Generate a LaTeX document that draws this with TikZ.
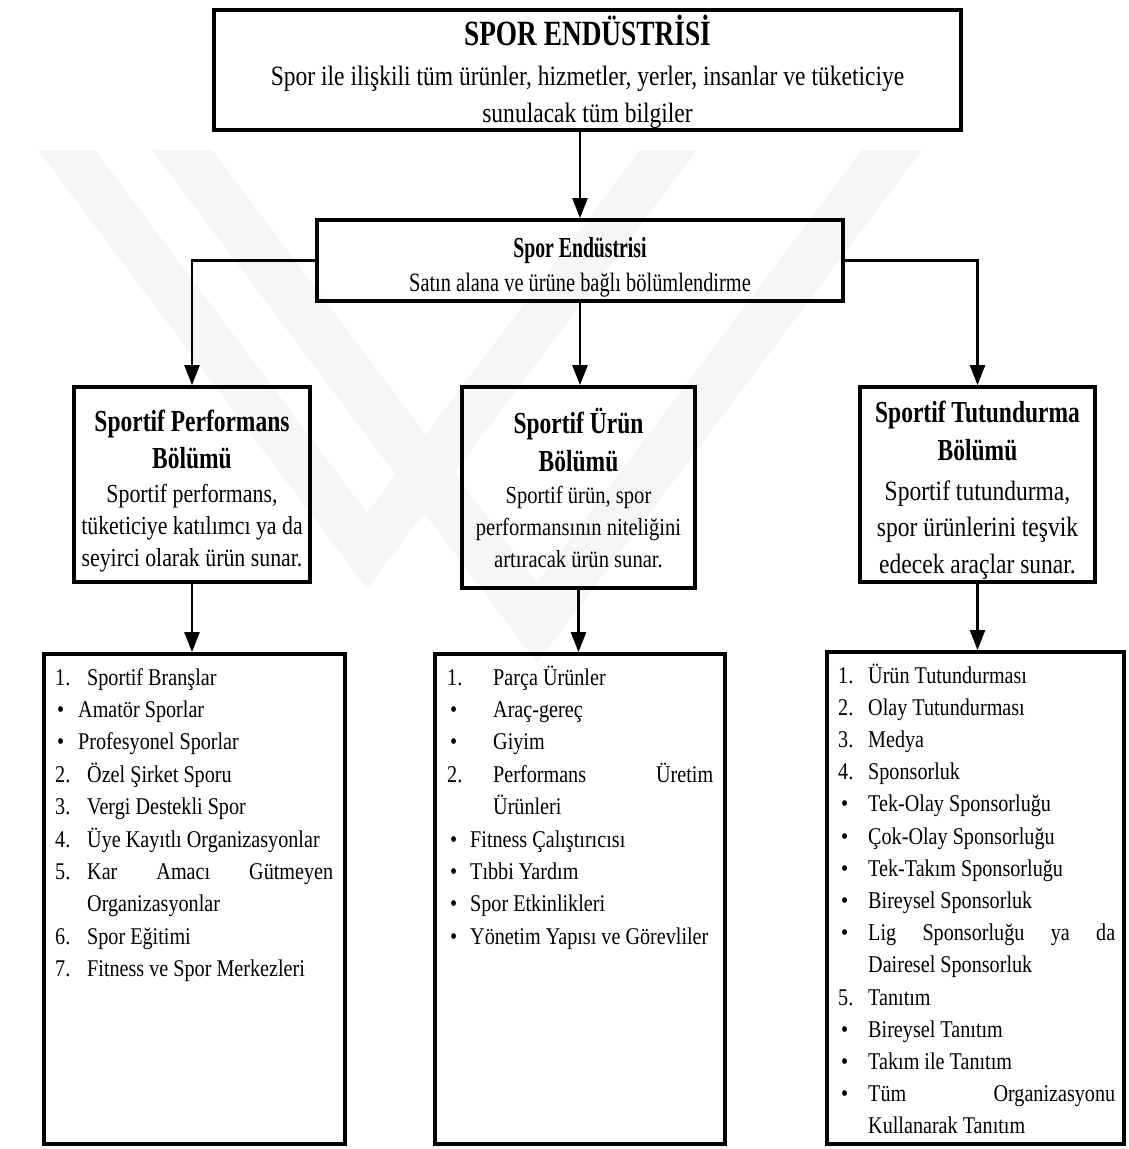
\documentclass[tikz,border=0pt]{standalone}
\usepackage{fontspec}
\setmainfont{Liberation Serif}[FakeStretch=0.84]
\newfontfamily\narrowserif{Liberation Serif}[FakeStretch=0.77]
\newfontfamily\tightserif{Liberation Serif}[FakeStretch=0.68]
\usetikzlibrary{arrows.meta,positioning}

\pgfdeclarelayer{background}
\pgfsetlayers{background,main}

\colorlet{mark area}{gray!7}
\newcommand\bigtitlefont{\narrowserif\bfseries\fontsize{35.5}{37}\selectfont}
\newcommand\midtitlefont{\tightserif\bfseries\fontsize{29}{34}\selectfont}
\newcommand\boxheadfont{\narrowserif\bfseries\fontsize{30.5}{37}\selectfont}
\newcommand\listfont{\fontsize{24}{32}\selectfont}

\tikzstyle{box} = [draw, line width=3.8pt, align=center, inner sep=0pt]
\tikzstyle{connector} = [draw, line width=2.4pt, -]
\tikzstyle{arrowline} = [connector, -{Triangle[length=20pt,width=15pt]}]
\tikzstyle{item} = [anchor=west, inner sep=0pt, text height=17pt, text depth=5pt, font=\listfont]

% x position of label / label / x position of text / text
\def\perflist{55/1./87/Sportif Branşlar, 57/•/78/Amatör Sporlar, 57/•/78/Profesyonel Sporlar, 55/2./87/Özel Şirket Sporu, 55/3./87/Vergi Destekli Spor, 55/4./87/Üye Kayıtlı Organizasyonlar, 55/5./87/\makebox[246pt][s]{Kar Amacı Gütmeyen}, 55//87/Organizasyonlar, 55/6./87/Spor Eğitimi, 55/7./87/Fitness ve Spor Merkezleri}
\def\productlist{447/1./493/Parça Ürünler, 450/•/493/Araç-gereç, 450/•/493/Giyim, 447/2./493/\makebox[220pt][s]{Performans Üretim}, 447//493/Ürünleri, 450/•/470/Fitness Çalıştırıcısı, 450/•/470/Tıbbi Yardım, 450/•/470/Spor Etkinlikleri, 450/•/470/Yönetim Yapısı ve Görevliler}
\def\promolist{838/1./868/Ürün Tutundurması, 838/2./868/Olay Tutundurması, 838/3./868/Medya, 838/4./868/Sponsorluk, 841/•/868/Tek-Olay Sponsorluğu, 841/•/868/Çok-Olay Sponsorluğu, 841/•/868/Tek-Takım Sponsorluğu, 841/•/868/Bireysel Sponsorluk, 841/•/868/\makebox[247pt][s]{Lig Sponsorluğu ya da}, 841//868/Dairesel Sponsorluk, 838/5./868/Tanıtım, 841/•/868/Bireysel Tanıtım, 841/•/868/Takım ile Tanıtım, 841/•/868/\makebox[247pt][s]{Tüm Organizasyonu}, 841//868/Kullanarak Tanıtım}

\begin{document}
\begin{tikzpicture}[x=1pt,y=-1pt]
  \useasboundingbox (0,0) rectangle (1129,1149);

  % The faint mark behind the chart
  \begin{pgfonlayer}{background}
    \fill[mark area] (38,150) -- (95,150) -- (367,513) -- (640,150) -- (697,150) -- (367,589) -- cycle;
    \fill[mark area] (152,150) -- (212,150) -- (537,583) -- (862,150) -- (922,150) -- (537,663) -- cycle;
  \end{pgfonlayer}

  % The two upper boxes
  \node[box, minimum width=747pt, minimum height=120pt, font=\fontsize{28}{37}\selectfont] (industry) at (587.5,70)
    {\rule{0pt}{34pt}{\bigtitlefont SPOR ENDÜSTRİSİ}\\[3pt]
     Spor ile ilişkili tüm ürünler, hizmetler, yerler, insanlar ve tüketiciye\\
     sunulacak tüm bilgiler};
  \node[box, minimum width=526pt, minimum height=81pt, font=\narrowserif\fontsize{26.5}{34}\selectfont] (segment) at (580,260.5)
    {\rule{0pt}{34pt}{\midtitlefont Spor Endüstrisi}\\ Satın alana ve ürüne bağlı bölümlendirme};

  % The three parts
  \node[box, minimum width=236pt, minimum height=195pt, font=\fontsize{26}{32}\selectfont] (perf) at (192,484.5)
    {\rule{0pt}{35pt}{\boxheadfont Sportif Performans}\\[5pt] {\boxheadfont Bölümü}\\[2pt]
     Sportif performans,\\ tüketiciye katılımcı ya da\\ seyirci olarak ürün sunar.};
  \node[box, minimum width=233pt, minimum height=201pt, font=\fontsize{24.5}{32}\selectfont] (product) at (578.5,487.5)
    {{\boxheadfont Sportif Ürün}\\[6pt] {\boxheadfont Bölümü}\\[0pt]
     Sportif ürün, spor\\ performansının niteliğini\\ artıracak ürün sunar.};
  \node[box, minimum width=235pt, minimum height=195pt, font=\fontsize{28}{36}\selectfont] (promo) at (977.5,484.5)
    {\rule{0pt}{33pt}{\boxheadfont Sportif Tutundurma}\\[2pt] {\boxheadfont Bölümü}\\[4pt]
     Sportif tutundurma,\\ spor ürünlerini teşvik\\[1pt] edecek araçlar sunar.};

  % The lists
  \node[box, minimum width=301pt, minimum height=490pt] (perfitems) at (194.5,899) {};
  \node[box, minimum width=290pt, minimum height=490pt] (productitems) at (580,899) {};
  \node[box, minimum width=297pt, minimum height=492pt] (promoitems) at (975.5,898) {};

  \foreach \lx/\lab/\tx/\txt [count=\i] in \perflist {
    \node[item] (perflab\i) at (\lx,{679+32.4*(\i-1)}) {\lab};
    \node[item] (perfitem\i) at (\tx,{679+32.4*(\i-1)}) {\txt};
  }
  \foreach \lx/\lab/\tx/\txt [count=\i] in \productlist {
    \node[item] (productlab\i) at (\lx,{679+32.4*(\i-1)}) {\lab};
    \node[item] (productitem\i) at (\tx,{679+32.4*(\i-1)}) {\txt};
  }
  \foreach \lx/\lab/\tx/\txt [count=\i] in \promolist {
    \node[item] (promolab\i) at (\lx,{677+32.2*(\i-1)}) {\lab};
    \node[item] (promoitem\i) at (\tx,{677+32.2*(\i-1)}) {\txt};
  }

  % The connections
  \draw[arrowline] (industry.south -| segment.north) -- (segment.north);
  \draw[arrowline] (segment.west) -| (perf.north);
  \draw[arrowline] (segment.south) -- (segment.south |- product.north);
  \draw[arrowline] (segment.east) -| (promo.north);
  \draw[arrowline] (perf.south) -- (perf.south |- perfitems.north);
  \draw[arrowline] (product.south) -- (product.south |- productitems.north);
  \draw[arrowline] (promo.south) -- (promo.south |- promoitems.north);

\end{tikzpicture}
\end{document}
